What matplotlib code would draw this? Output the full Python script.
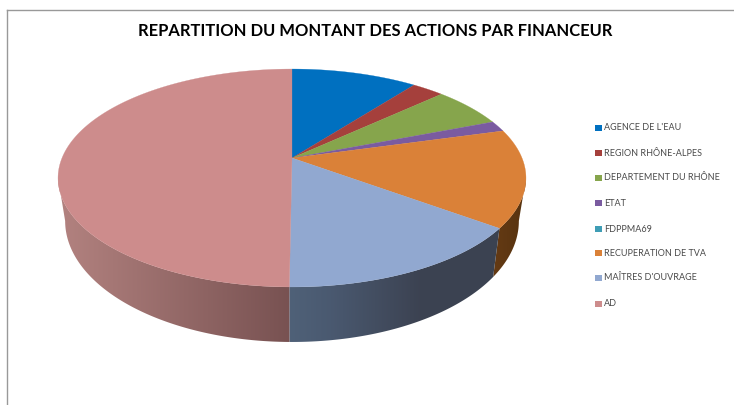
import numpy as np
import matplotlib
matplotlib.use('Agg')
import matplotlib.pyplot as plt

labels = ['AGENCE DE L\'EAU', 'REGION RHÔNE-ALPES', 'DEPARTEMENT DU RHÔNE', 'ETAT',
          'FDPPMA69', 'RECUPERATION DE TVA', 'MAÎTRES D\'OUVRAGE', 'AD']
values = [10.4, 2.65, 6.0, 1.6, 0.0, 14.5, 15.0, 49.85]
colors = ['#0070c0', '#a5403c', '#86a54c', '#7a5ba0', '#3f9db5', '#da8138', '#91a8d0', '#cd8c8c']

# wall shades of the slices that reach the front: x position -> colour
wall_x = {5: [490, 525], 6: [290, 330, 420, 500], 7: [60, 290]}
wall_rgb = {5: [(0.40, 0.23, 0.08), (0.34, 0.20, 0.06)],
            6: [(0.31, 0.38, 0.47), (0.29, 0.35, 0.44), (0.235, 0.26, 0.32), (0.235, 0.26, 0.32)],
            7: [(0.70, 0.51, 0.50), (0.47, 0.32, 0.32)]}

CX = 292
A = 0.1835  # perspective strength
FRONT_START = np.arccos(-A) / (2 * np.pi)  # where the rim turns back, right side
FRONT_END = 1 - FRONT_START


def rim(frac, y0, k, b):
    # fraction of the circle, clockwise from the top -> screen point
    t = 2 * np.pi * np.asarray(frac)
    u, v = np.sin(t), np.cos(t)
    w = 1 + A * v
    return CX + k * u / w, y0 - b * v / w


def top_rim(frac):
    return rim(frac, 158, 230, 105.3)


def low_rim(frac):
    return rim(frac, 198.8, 223, 116.9)


fig = plt.figure(figsize=(7.34, 4.05), dpi=100)
ax = fig.add_axes([0, 0, 1, 1])

# frame of the pasted chart
ax.plot([7, 7], [405, 10], color='#999999', lw=1.0)
ax.plot([7, 734], [10, 10], color='#999999', lw=1.0)

edges = np.cumsum([0] + values) / sum(values)

# side wall first, gradient image clipped to each wall shape
for i in wall_x:
    f = np.linspace(max(edges[i], FRONT_START), min(edges[i + 1], FRONT_END), 200)
    xt, yt = top_rim(f)
    xl, yl = low_rim(f)
    shape = plt.Polygon(np.c_[np.r_[xt, xl[::-1]], np.r_[yt, yl[::-1]]], closed=True,
                        transform=ax.transData, fc='none', ec='none')
    ax.add_patch(shape)
    xs = np.arange(40, 540)
    grad = np.stack([np.interp(xs, wall_x[i], [c[k] for c in wall_rgb[i]]) for k in range(3)], axis=-1)
    im = ax.imshow(grad[np.newaxis, :, :], extent=(40, 540, 360, 170), aspect='auto', interpolation='bilinear')
    im.set_clip_path(shape)

# top face
for i, col in enumerate(colors):
    if values[i] <= 0:
        continue
    f = np.linspace(edges[i], edges[i + 1], 200)
    x, y = top_rim(f)
    ax.fill(np.r_[CX, x], np.r_[158, y], color=col, lw=0.2)

ax.text(375.5, 31, 'REPARTITION DU MONTANT DES ACTIONS PAR FINANCEUR', ha='center', va='center',
        fontsize=11.9, fontweight='bold', family='Lato', color='black')

# legend
leg_y = [128, 153, 178, 203, 229, 253, 278, 304]
for i, lab in enumerate(labels):
    ax.add_patch(plt.Rectangle((595, leg_y[i] - 3), 7, 6, color=colors[i], lw=0))
    ax.text(604, leg_y[i], lab, ha='left', va='center', fontsize=6.5, family='Lato', color='#4a4a4a')

ax.set_xlim(0, 734)
ax.set_ylim(405, 0)
ax.axis('off')

fig.savefig('out.png', dpi=100)
